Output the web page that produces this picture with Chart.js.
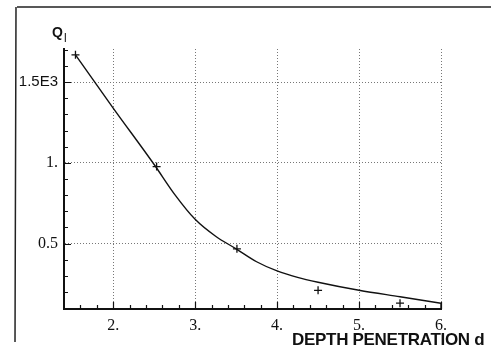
<!DOCTYPE html>
<html>
<head>
<meta charset="utf-8">
<script src="https://cdn.jsdelivr.net/npm/chart.js@4/dist/chart.umd.min.js"></script>
<style>
  html, body { margin: 0; padding: 0; background: #fff; }
  #wrap { position: relative; width: 491px; height: 348px; overflow: hidden; }
  #c { position: absolute; left: 0; top: 0; }
  .ytitle { position: absolute; left: 52px; top: 24px; font: bold 14px "Liberation Sans", Arial, sans-serif; color: #111; }
  .ytitle sub { font-size: 12px; font-weight: normal; vertical-align: -5px; margin-left: 1px; }
  .xtitle { position: absolute; left: 292px; top: 330px; font: bold 17px "Liberation Sans", Arial, sans-serif; color: #111; white-space: nowrap; letter-spacing: -0.3px; }
</style>
</head>
<body>
<div id="wrap">
  <canvas id="c" width="491" height="348"></canvas>
  <div class="ytitle">Q<sub>l</sub></div>
  <div class="xtitle">DEPTH PENETRATION d</div>
</div>
<script>
// ---- data ----
const curveX = [1.54, 2.0, 2.5, 2.75, 3.0, 3.25, 3.5, 3.75, 4.0, 4.25, 4.5, 5.0, 5.5, 6.0];
const curveY = [1.67, 1.34, 0.99, 0.805, 0.65, 0.545, 0.467, 0.387, 0.33, 0.29, 0.26, 0.21, 0.17, 0.13];
const dropX = [6.0, 6.0];
const dropY = [0.13, 0.094];
const pointsX = [1.54, 2.53, 3.51, 4.5, 5.5];
const pointsY = [1.67, 0.977, 0.467, 0.21, 0.13];
const xTicks = [2, 3, 4, 5, 6];
const xTickLabels = ["2.", "3.", "4.", "5.", "6."];
const yTicks = [0.5, 1.0, 1.5];
const yTickLabels = ["0.5", "1.", "1.5E3"];
const xMinorTicks = [1.6, 1.8, 2.2, 2.4, 2.6, 2.8, 3.2, 3.4, 3.6, 3.8, 4.2, 4.4, 4.6, 4.8, 5.2, 5.4, 5.6, 5.8];
const yMinorTicks = [0.2, 0.3, 0.4, 0.6, 0.7, 0.8, 0.9, 1.1, 1.2, 1.3, 1.4, 1.6, 1.7];

const toXY = (xs, ys) => xs.map((x, i) => ({ x: x, y: ys[i] }));

const decor = {
  id: 'decor',
  beforeDraw(chart) {
    const ctx = chart.ctx;
    ctx.save();
    ctx.strokeStyle = '#222';
    ctx.lineWidth = 1.5;
    ctx.beginPath();
    ctx.moveTo(17, 7); ctx.lineTo(491, 7);
    ctx.moveTo(16, 7); ctx.lineTo(15, 342);
    ctx.stroke();
    ctx.restore();
  },
  afterDatasetsDraw(chart) {
    const ctx = chart.ctx;
    const xs = chart.scales.x, ys = chart.scales.y;
    const a = chart.chartArea;
    ctx.save();
    ctx.strokeStyle = '#111';
    ctx.lineWidth = 1.2;
    ctx.beginPath();
    xMinorTicks.forEach(v => { const p = Math.round(xs.getPixelForValue(v)) + 0.5; ctx.moveTo(p, a.bottom); ctx.lineTo(p, a.bottom - 4); });
    xTicks.forEach(v => { const p = Math.round(xs.getPixelForValue(v)) + 0.5; ctx.moveTo(p, a.bottom); ctx.lineTo(p, a.bottom - 7); });
    yMinorTicks.forEach(v => { const p = Math.round(ys.getPixelForValue(v)) + 0.5; ctx.moveTo(a.left, p); ctx.lineTo(a.left + 4, p); });
    yTicks.forEach(v => { const p = Math.round(ys.getPixelForValue(v)) + 0.5; ctx.moveTo(a.left, p); ctx.lineTo(a.left + 7, p); });
    ctx.stroke();
    ctx.restore();
  }
};

new Chart(document.getElementById('c'), {
  type: 'scatter',
  data: {
    datasets: [
      { data: toXY(curveX, curveY), showLine: true, borderColor: '#111', borderWidth: 1.4,
        pointRadius: 0, cubicInterpolationMode: 'monotone', fill: false },
      { data: toXY(dropX, dropY), showLine: true, borderColor: '#111', borderWidth: 1.4,
        pointRadius: 0, tension: 0, fill: false },
      { data: toXY(pointsX, pointsY), showLine: false, pointStyle: 'cross', pointRadius: 4,
        borderColor: '#111', borderWidth: 1.3, backgroundColor: '#111' }
    ]
  },
  options: {
    responsive: false,
    animation: false,
    devicePixelRatio: 1,
    layout: { padding: { left: 0, top: 49, right: 50, bottom: 0 } },
    plugins: { legend: { display: false }, tooltip: { enabled: false } },
    scales: {
      x: {
        type: 'linear', min: 1.4, max: 6.0,
        afterBuildTicks: s => { s.ticks = xTicks.map(v => ({ value: v })); },
        afterFit: s => { s.height = 39; },
        border: { display: true, color: '#111', width: 2, dash: [1, 2] },
        grid: { drawTicks: false, color: '#777', lineWidth: 1 },
        ticks: {
          padding: 7, color: '#111',
          font: { family: '"Liberation Serif", "Times New Roman", serif', size: 16 },
          callback: v => { const i = xTicks.indexOf(v); return i >= 0 ? xTickLabels[i] : ''; }
        }
      },
      y: {
        type: 'linear', min: 0.094, max: 1.706,
        afterBuildTicks: s => { s.ticks = yTicks.map(v => ({ value: v })); },
        afterFit: s => { s.width = 64; },
        border: { display: true, color: '#111', width: 2, dash: [1, 2] },
        grid: { drawTicks: false, color: '#777', lineWidth: 1 },
        ticks: {
          padding: 6, color: '#111',
          font: c => (c.tick && c.tick.value === 1.5)
            ? { family: '"Liberation Sans", Arial, sans-serif', size: 15 }
            : { family: '"Liberation Serif", "Times New Roman", serif', size: 16 },
          callback: v => { const i = yTicks.indexOf(v); return i >= 0 ? yTickLabels[i] : ''; }
        }
      }
    }
  },
  plugins: [decor]
});
</script>
</body>
</html>
